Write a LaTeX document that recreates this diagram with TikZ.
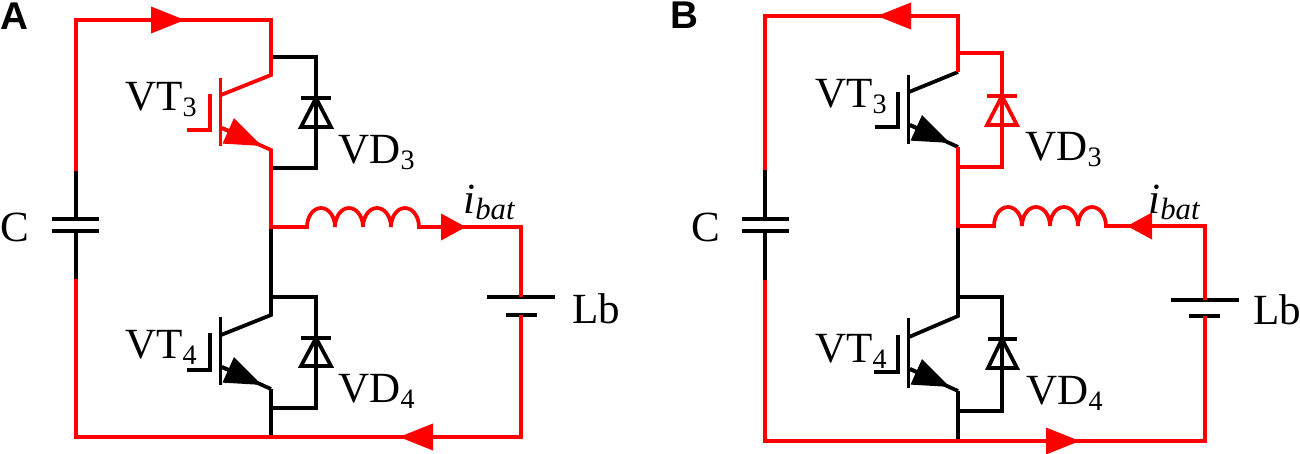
\documentclass[tikz,border=0pt]{standalone}
\usepackage{fontspec}
\setmainfont{Liberation Serif}
\newfontfamily\panelfont{Liberation Sans}
\usetikzlibrary{arrows.meta}

\newcommand{\lowidx}[1]{\raisebox{-0.16em}{\fontsize{16}{16}\selectfont #1}}
\newcommand{\lowname}[1]{\raisebox{-0.16em}{\fontsize{17.5}{17.5}\selectfont #1}}
\newcommand{\coilhump}{arc[start angle=180, end angle=0, x radius=0.28cm, y radius=0.38cm]}

\tikzset{
    blackwire/.style={draw=black, line width=0.075cm},
    redwire/.style={draw=red, line width=0.075cm},
    linetip/.style={-{Triangle[length=0.68cm, width=0.52cm]}},
    shorttip/.style={-{Triangle[length=0.5cm, width=0.52cm]}},
    emittertip/.style={-{Triangle[length=0.74cm, width=0.54cm]}},
    partlabel/.style={anchor=base west, inner sep=0pt, font=\fontsize{24.5}{30}\selectfont},
    panellabel/.style={anchor=base west, inner sep=0pt, font=\panelfont\bfseries\fontsize{22}{24}\selectfont}
}

\begin{document}
\begin{tikzpicture}[x=0.02cm, y=-0.02cm]

    \useasboundingbox (0,0) rectangle (1300,453);

    % panel A: points of the circuit
    \coordinate (Atopleft) at (76,20);
    \coordinate (Atoptip) at (185,20);
    \coordinate (Atopright) at (271,20);
    \coordinate (Acapin) at (76,171);
    \coordinate (Acapup) at (76,219);
    \coordinate (Acapdown) at (76,231);
    \coordinate (Acapout) at (76,279);
    \coordinate (Abotleft) at (76,437);
    \coordinate (Abotmid) at (271,437);
    \coordinate (Abottip) at (399,437);
    \coordinate (Abotright) at (521,437);
    \coordinate (Abatshort) at (521,315);
    \coordinate (Abatlong) at (521,297);
    \coordinate (Aright) at (521,227);
    \coordinate (Amidtip) at (466,227);
    \coordinate (Acoilout) at (419,227);
    \coordinate (Acoilin) at (307,227);
    \coordinate (Amid) at (271,227);
    \coordinate (Adiodeup) at (271,57);
    \coordinate (Adiodeupr) at (316,57);
    \coordinate (Adiodedownr) at (316,168);
    \coordinate (Adiodedown) at (271,168);
    \coordinate (Acoll) at (271,75);
    \coordinate (Acollbar) at (221,95);
    \coordinate (Aemit) at (271,150);
    \coordinate (Aemitbar) at (222,128);
    \coordinate (Aemittip) at (262,146);
    \coordinate (Adiodelowup) at (271,297);
    \coordinate (Adiodelowupr) at (316,297);
    \coordinate (Adiodelowdownr) at (316,408);
    \coordinate (Adiodelowdown) at (271,408);
    \coordinate (Acolllow) at (271,315);
    \coordinate (Acollbarlow) at (221,335);
    \coordinate (Aemitlow) at (271,389);
    \coordinate (Aemitbarlow) at (222,367);
    \coordinate (Aemittiplow) at (262,385);

    % panel A: black parts
    \draw[blackwire] (Acapin) -- (Acapup);
    \draw[blackwire] (Acapdown) -- (Acapout);
    \draw[blackwire] (52,219) -- (99,219);
    \draw[blackwire] (52,231) -- (99,231);
    \draw[blackwire] (Adiodeup) -- (Adiodeupr) -- (Adiodedownr) -- (Adiodedown);
    \draw[blackwire] (301,98) -- (331,98);
    \draw[blackwire] (316,98) -- (301,127) -- (331,127) -- cycle;
    \draw[blackwire] (Amid) -- (Acolllow) -- (Acollbarlow);
    \draw[blackwire] (Aemitlow) -- (Abotmid);
    \draw[blackwire] (Adiodelowup) -- (Adiodelowupr) -- (Adiodelowdownr) -- (Adiodelowdown);
    \draw[blackwire] (301,338) -- (331,338);
    \draw[blackwire] (316,338) -- (301,366) -- (331,366) -- cycle;
    \draw[blackwire] (220.5,317) -- (220.5,385);
    \draw[blackwire] (187,370) -- (210,370) -- (210,333);
    \draw[blackwire] (Aemitbarlow) -- (Aemitlow);
    \draw[blackwire, emittertip] (Aemitbarlow) -- (Aemittiplow);
    \draw[blackwire] (487,297) -- (555,297);
    \draw[blackwire] (506,315) -- (537,315);

    % panel A: current path
    \draw[redwire] (Acapin) -- (Atopleft) -- (Atopright) -- (Acoll) -- (Acollbar);
    \draw[redwire, linetip] (Atopleft) -- (Atoptip);
    \draw[redwire] (220.5,78) -- (220.5,146);
    \draw[redwire] (187,130) -- (210,130) -- (210,94);
    \draw[redwire] (Aemitbar) -- (Aemit) -- (Amid) -- (Acoilin) \coilhump \coilhump \coilhump \coilhump -- (Aright) -- (Abatlong);
    \draw[redwire, emittertip] (Aemitbar) -- (Aemittip);
    \draw[redwire, shorttip] (Acoilout) -- (Amidtip);
    \draw[redwire] (Abatshort) -- (Abotright) -- (Abotleft) -- (Acapout);
    \draw[redwire, linetip] (Abotright) -- (Abottip);

    % panel B: points of the circuit
    \coordinate (Btopleft) at (765,16);
    \coordinate (Btoptip) at (877,16);
    \coordinate (Btopright) at (958,16);
    \coordinate (Bcapin) at (765,170);
    \coordinate (Bcapup) at (765,219);
    \coordinate (Bcapdown) at (765,231);
    \coordinate (Bcapout) at (765,280);
    \coordinate (Bbotleft) at (765,441);
    \coordinate (Bbotmid) at (958,441);
    \coordinate (Bbottip) at (1080,441);
    \coordinate (Bbotright) at (1205,441);
    \coordinate (Bbatshort) at (1205,316);
    \coordinate (Bbatlong) at (1205,300);
    \coordinate (Bright) at (1205,226);
    \coordinate (Bmidtip) at (1127,226);
    \coordinate (Bcoilout) at (1106,226);
    \coordinate (Bcoilin) at (994,226);
    \coordinate (Bmid) at (958,226);
    \coordinate (Bdiodeup) at (958,53);
    \coordinate (Bdiodeupr) at (1002,53);
    \coordinate (Bdiodedownr) at (1002,167);
    \coordinate (Bdiodedown) at (958,167);
    \coordinate (Bcoll) at (958,72);
    \coordinate (Bcollbar) at (909,92);
    \coordinate (Bemit) at (958,147);
    \coordinate (Bemitbar) at (910,125);
    \coordinate (Bemittip) at (950,143);
    \coordinate (Bdiodelowup) at (958,297);
    \coordinate (Bdiodelowupr) at (1002,297);
    \coordinate (Bdiodelowdownr) at (1002,411);
    \coordinate (Bdiodelowdown) at (958,411);
    \coordinate (Bcolllow) at (958,316);
    \coordinate (Bcollbarlow) at (909,337);
    \coordinate (Bemitlow) at (958,391);
    \coordinate (Bemitbarlow) at (910,369);
    \coordinate (Bemittiplow) at (950,387);

    % panel B: black parts
    \draw[blackwire] (Bcapin) -- (Bcapup);
    \draw[blackwire] (Bcapdown) -- (Bcapout);
    \draw[blackwire] (742,219) -- (789,219);
    \draw[blackwire] (742,231) -- (789,231);
    \draw[blackwire] (Bcoll) -- (Bcollbar);
    \draw[blackwire] (908.5,75) -- (908.5,144);
    \draw[blackwire] (875,127) -- (898,127) -- (898,92);
    \draw[blackwire] (Bemitbar) -- (Bemit);
    \draw[blackwire, emittertip] (Bemitbar) -- (Bemittip);
    \draw[blackwire] (Bmid) -- (Bcolllow) -- (Bcollbarlow);
    \draw[blackwire] (Bemitlow) -- (Bbotmid);
    \draw[blackwire] (Bdiodelowup) -- (Bdiodelowupr) -- (Bdiodelowdownr) -- (Bdiodelowdown);
    \draw[blackwire] (988,339) -- (1017,339);
    \draw[blackwire] (1002,339) -- (988,368) -- (1017,368) -- cycle;
    \draw[blackwire] (908.5,318) -- (908.5,388);
    \draw[blackwire] (874,372) -- (898,372) -- (898,335);
    \draw[blackwire] (Bemitbarlow) -- (Bemitlow);
    \draw[blackwire, emittertip] (Bemitbarlow) -- (Bemittiplow);
    \draw[blackwire] (1171,300) -- (1239,300);
    \draw[blackwire] (1189,316) -- (1220,316);

    % panel B: current path
    \draw[redwire] (Bcoll) -- (Btopright) -- (Btopleft) -- (Bcapin);
    \draw[redwire, linetip] (Btopright) -- (Btoptip);
    \draw[redwire] (Bdiodeup) -- (Bdiodeupr) -- (Bdiodedownr) -- (Bdiodedown);
    \draw[redwire] (987,96) -- (1017,96);
    \draw[redwire] (1002,96) -- (987,125) -- (1017,125) -- cycle;
    \draw[redwire] (Bemit) -- (Bmid) -- (Bcoilin) \coilhump \coilhump \coilhump \coilhump -- (Bright) -- (Bbatlong);
    \draw[redwire, shorttip] (Bright) -- (Bmidtip);
    \draw[redwire] (Bbatshort) -- (Bbotright) -- (Bbotleft) -- (Bcapout);
    \draw[redwire, linetip] (Bbotmid) -- (Bbottip);

    % labels
    \node[panellabel] (panelA) at (0,30) {A};
    \node[panellabel] (panelB) at (670,29) {B};

    \node[partlabel] (VTthreeA) at (125,110) {VT\lowidx{3}};
    \node[partlabel] (VDthreeA) at (338,163) {VD\lowidx{3}};
    \node[partlabel] (VTfourA) at (125,358) {VT\lowidx{4}};
    \node[partlabel] (VDfourA) at (338,402) {VD\lowidx{4}};
    \node[partlabel] (capA) at (0,241) {C};
    \node[partlabel] (batA) at (572,323) {Lb};
    \node[partlabel] (currentA) at (463,213) {\itshape i\lowname{bat}};

    \node[partlabel] (VTthreeB) at (815,107) {VT\lowidx{3}};
    \node[partlabel] (VDthreeB) at (1025,160) {VD\lowidx{3}};
    \node[partlabel] (VTfourB) at (815,362) {VT\lowidx{4}};
    \node[partlabel] (VDfourB) at (1026,404) {VD\lowidx{4}};
    \node[partlabel] (capB) at (691,241) {C};
    \node[partlabel] (batB) at (1253,324) {Lb};
    \node[partlabel] (currentB) at (1148,213) {\itshape i\lowname{bat}};

\end{tikzpicture}
\end{document}
